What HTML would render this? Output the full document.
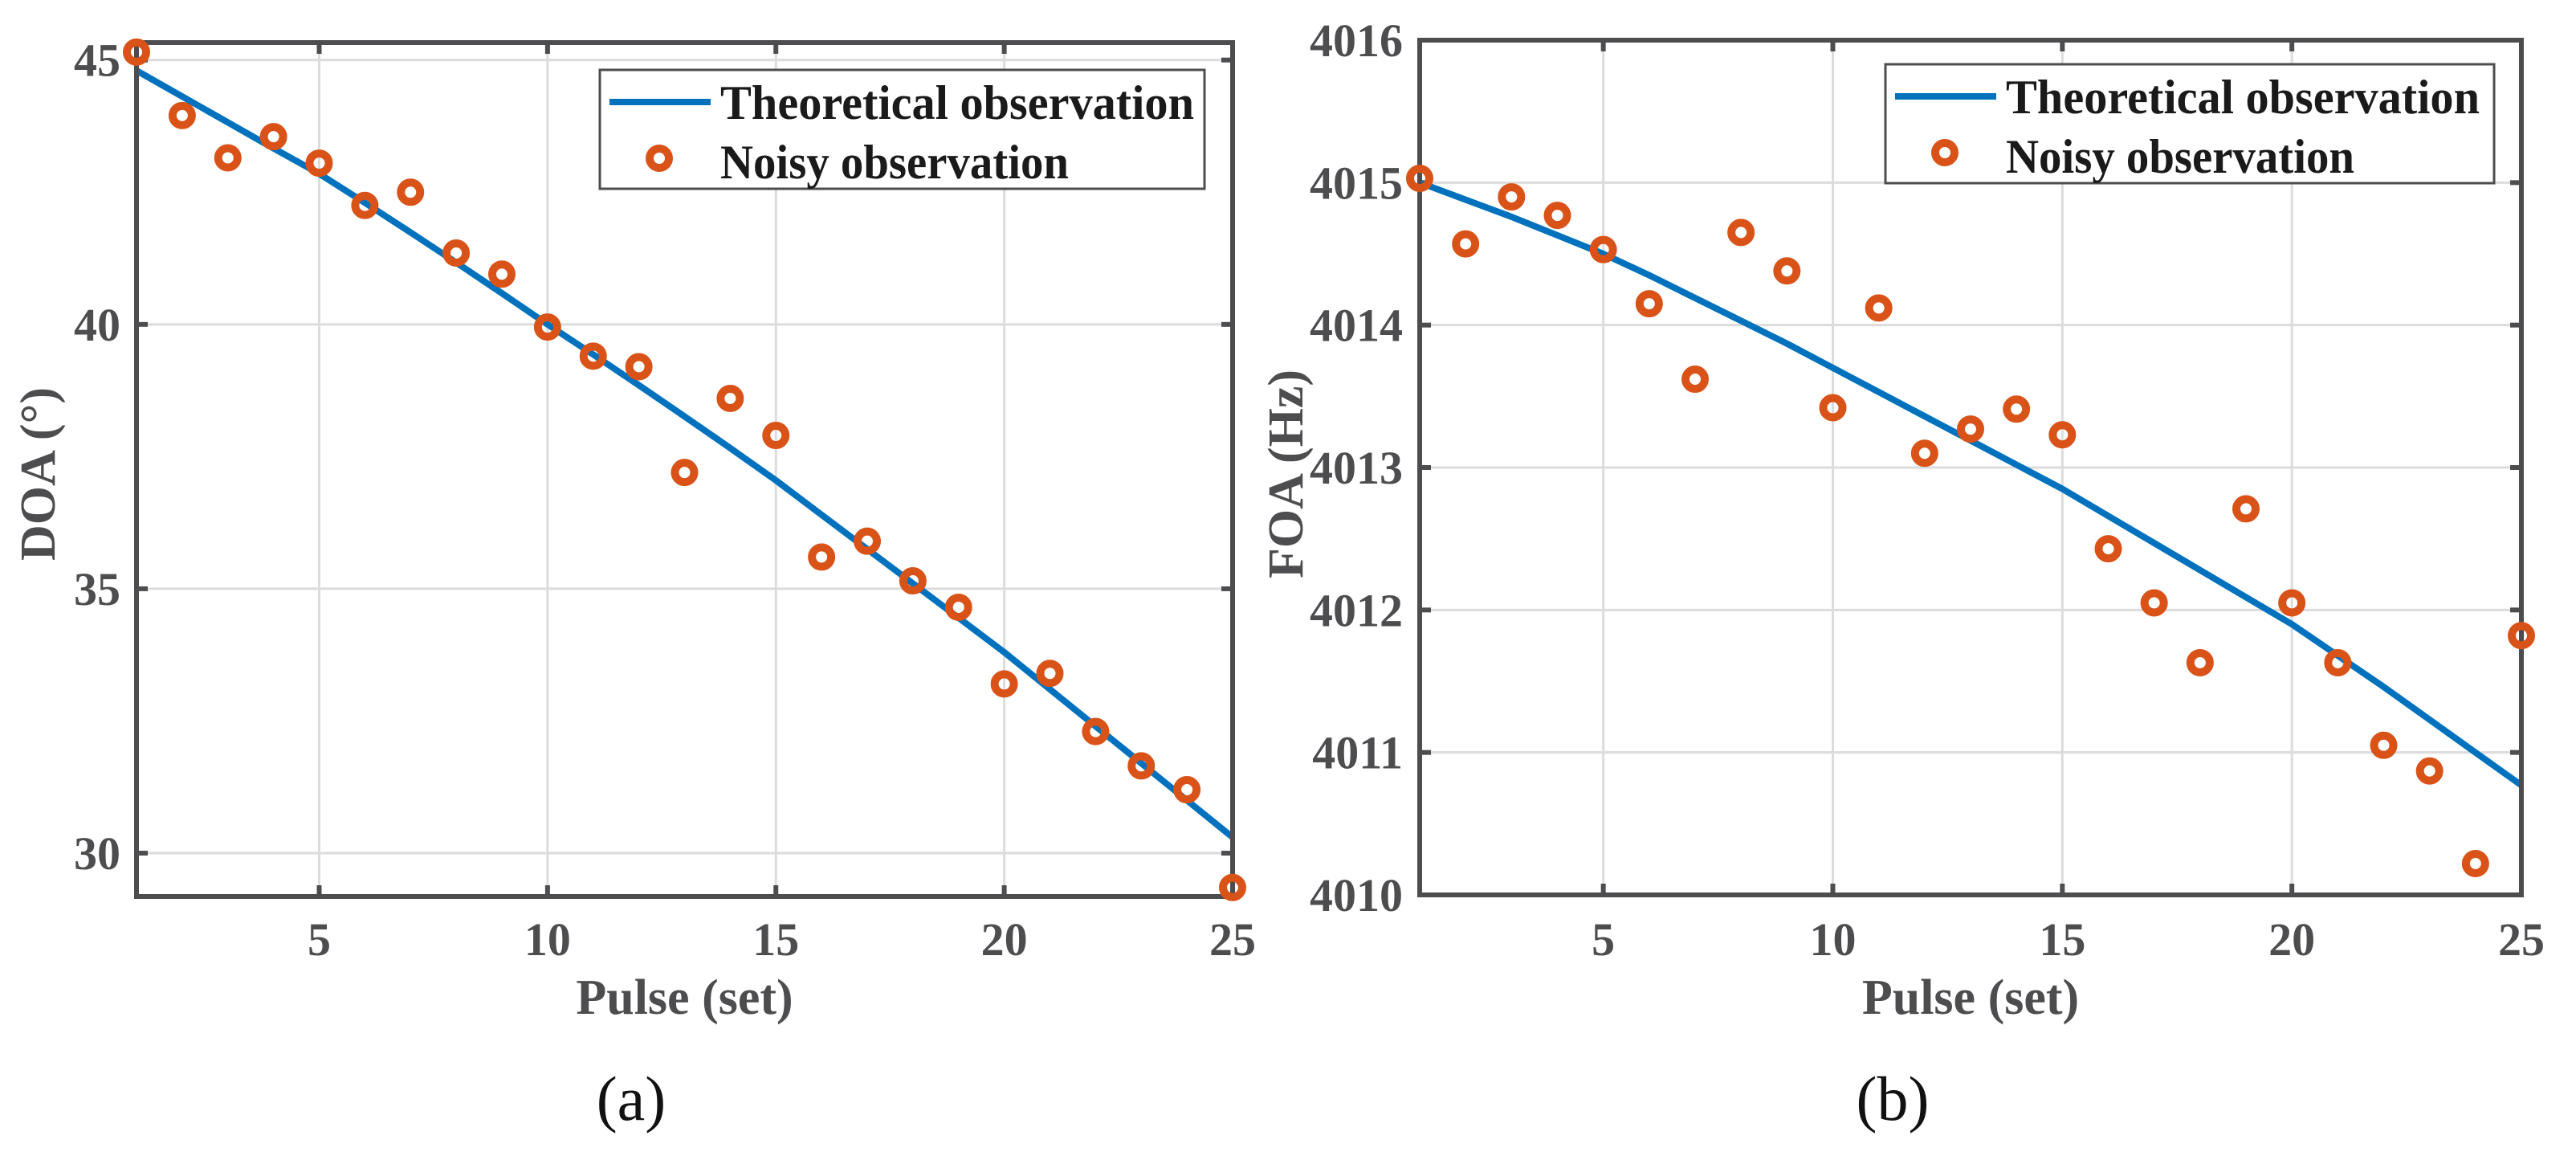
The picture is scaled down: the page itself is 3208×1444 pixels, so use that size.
<!DOCTYPE html>
<html><head><meta charset="utf-8"><style>
html,body{margin:0;padding:0;background:#fff}
svg{display:block}
text{font-family:"Liberation Serif",serif;}
</style></head><body>
<svg id="fig" width="3208" height="1444" viewBox="0 0 3208 1444" xmlns="http://www.w3.org/2000/svg"></svg>
<script>
const pulses=[1,2,3,4,5,6,7,8,9,10,11,12,13,14,15,16,17,18,19,20,21,22,23,24,25];
const doaTheory=[44.8,44.31,43.82,43.33,42.85,42.3,41.74,41.17,40.59,40.0,39.43,38.85,38.26,37.66,37.05,36.4,35.75,35.1,34.45,33.8,33.1,32.4,31.7,31.0,30.3];
const doaNoisy=[45.15,43.95,43.15,43.55,43.05,42.25,42.5,41.35,40.95,39.95,39.4,39.2,37.2,38.6,37.9,35.6,35.9,35.15,34.65,33.2,33.4,32.3,31.65,31.2,29.35];
const foaTheory=[4015.0,4014.88,4014.76,4014.63,4014.5,4014.35,4014.19,4014.03,4013.87,4013.7,4013.53,4013.36,4013.19,4013.02,4012.85,4012.66,4012.47,4012.28,4012.09,4011.9,4011.68,4011.46,4011.23,4011.0,4010.77];
const foaNoisy=[4015.03,4014.57,4014.9,4014.77,4014.53,4014.15,4013.62,4014.65,4014.38,4013.42,4014.12,4013.1,4013.27,4013.41,4013.23,4012.43,4012.05,4011.63,4012.71,4012.05,4011.63,4011.05,4010.87,4010.22,4011.82];
const xTicks=[5,10,15,20,25];
const doaTicks=[30,35,40,45];
const foaTicks=[4010,4011,4012,4013,4014,4015,4016];

const NS='http://www.w3.org/2000/svg';
const svg=document.getElementById('fig');
function mk(tag,attrs,parent){const e=document.createElementNS(NS,tag);for(const k in attrs)e.setAttribute(k,attrs[k]);(parent||svg).appendChild(e);return e;}

function panel(cfg){
  const g=mk('g',{});
  
  
  const {L,R,T,B,ymin,ymax}=cfg;
  const sx=v=>L+(v-1)/(25-1)*(R-L);
  const sy=v=>B-(v-ymin)/(ymax-ymin)*(B-T);
  xTicks.forEach(t=>{const l=mk('line',{x1:sx(t),x2:sx(t),y1:T,y2:B,stroke:'#dcdcdc','stroke-width':3},g);
    
    });
  cfg.yTicks.forEach(t=>{const y=sy(t);if(y<T-1||y>B+1)return;const l=mk('line',{x1:L,x2:R,y1:y,y2:y,stroke:'#dcdcdc','stroke-width':3},g);
    
    });
  xTicks.forEach(t=>{mk('line',{x1:sx(t),x2:sx(t),y1:B,y2:B-14,stroke:'#4d4d4f','stroke-width':6},g);mk('line',{x1:sx(t),x2:sx(t),y1:T,y2:T+14,stroke:'#4d4d4f','stroke-width':6},g);
    const tx=mk('text',{x:sx(t),y:1189,'text-anchor':'middle','font-size':58,'font-weight':'bold',fill:'#4d4d4f'},g);tx.textContent=t;
    
    });
  cfg.yTicks.forEach(t=>{const y=sy(t);mk('line',{x1:L,x2:L+14,y1:y,y2:y,stroke:'#4d4d4f','stroke-width':6},g);mk('line',{x1:R,x2:R-14,y1:y,y2:y,stroke:'#4d4d4f','stroke-width':6},g);
    const tx=mk('text',{x:cfg.labelX,y:y+20,'text-anchor':'end','font-size':58,'font-weight':'bold',fill:'#4d4d4f'},g);tx.textContent=t;
    
    });
  const d=pulses.map((p,i)=>(i?'L':'M')+sx(p).toFixed(1)+' '+sy(cfg.theory[i]).toFixed(1)).join(' ');
  const path=mk('path',{d,fill:'none',stroke:'#0072BD','stroke-width':8,'stroke-linejoin':'round'},g);
  
  
  const box=mk('rect',{x:L,y:T,width:R-L,height:B-T,fill:'none',stroke:'#4d4d4f','stroke-width':6},g);
  
  
  pulses.forEach((p,i)=>{const c=mk('circle',{cx:sx(p),cy:sy(cfg.noisy[i]),r:12,fill:'none',stroke:'#D95319','stroke-width':10},g);
    
    });
  const lg=mk('g',{},g);
  
  
  const lx=cfg.lgX, ly=cfg.lgY;
  mk('rect',{x:lx,y:ly,width:cfg.lgW,height:148,fill:'#fff',stroke:'#4d4d4f','stroke-width':3},lg);
  mk('line',{x1:lx+12,x2:lx+138,y1:ly+40,y2:ly+40,stroke:'#0072BD','stroke-width':8},lg);
  mk('circle',{cx:lx+74,cy:ly+110,r:12,fill:'none',stroke:'#D95319','stroke-width':10},lg);
  const t1=mk('text',{x:lx+150,y:ly+61,'font-size':60,'font-weight':'bold',fill:'#1a1a1a',textLength:590,lengthAdjust:'spacingAndGlyphs'},lg);t1.textContent='Theoretical observation';
  
  
  const t2=mk('text',{x:lx+150,y:ly+135,'font-size':60,'font-weight':'bold',fill:'#1a1a1a',textLength:434,lengthAdjust:'spacingAndGlyphs'},lg);t2.textContent='Noisy observation';
  
  
  const xt=mk('text',{x:(L+R)/2,y:1262,'text-anchor':'middle','font-size':62,'font-weight':'bold',fill:'#4d4d4f'},g);xt.textContent='Pulse (set)';
  
  
  const yt=mk('text',{x:0,y:0,'text-anchor':'middle','font-size':62,'font-weight':'bold',fill:'#4d4d4f',transform:`translate(${cfg.ytX},590) rotate(-90)`},g);yt.textContent=cfg.ytitle;
  
  
  const cap=mk('text',{x:cfg.capX,y:1394,'text-anchor':'middle','font-size':78,fill:'#111'},g);cap.textContent=cfg.cap;
  
  
}
panel({name:'doa-chart',L:170,R:1535,T:53,B:1116,ymin:29.18,ymax:45.33,yTicks:doaTicks,theory:doaTheory,noisy:doaNoisy,labelX:150,lgX:747,lgY:87,lgW:753,ytitle:'DOA (°)',ytX:68,capX:786,cap:'(a)'});
panel({name:'foa-chart',L:1768,R:3140,T:50,B:1114,ymin:4010,ymax:4016,yTicks:foaTicks,theory:foaTheory,noisy:foaNoisy,labelX:1747,lgX:2348,lgY:80,lgW:758,ytitle:'FOA (Hz)',ytX:1622,capX:2357,cap:'(b)'});
</script>
</body></html>
